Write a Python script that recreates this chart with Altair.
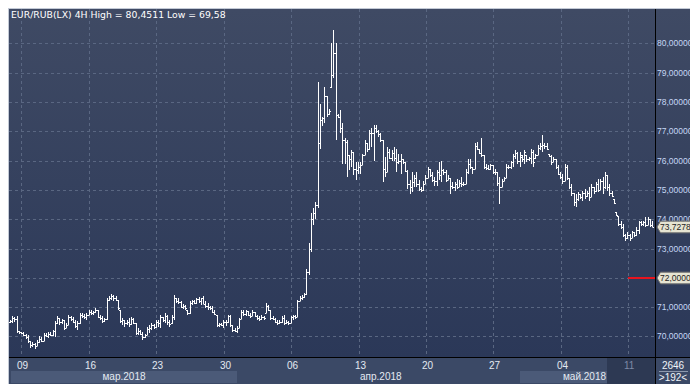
import altair as alt
import pandas as pd

# ---------------- data (4H bars) ----------------
HIGH = [
70.55,70.69,70.66,70.71,70.20,70.17,70.15,70.08,70.06,69.85,
69.80,69.77,69.88,70.00,69.98,70.11,70.11,70.17,70.15,70.23,
70.52,70.69,70.63,70.60,70.55,70.46,70.74,70.69,70.65,70.57,
70.52,70.80,70.80,70.78,70.80,70.92,70.92,70.88,70.97,70.92,
70.74,70.69,70.62,71.32,71.37,71.45,71.40,71.37,71.26,70.92,
70.62,70.57,70.57,70.63,70.65,70.62,70.46,70.29,70.23,70.17,
70.10,70.34,70.40,70.46,70.42,70.57,70.57,70.74,70.68,70.80,
70.74,70.57,70.74,71.43,71.32,71.30,71.20,71.10,71.06,70.92,
71.20,71.26,71.24,71.32,71.34,71.33,71.37,71.20,71.15,71.03,
71.03,70.90,70.74,70.46,70.46,70.57,70.55,70.74,70.74,70.40,
70.30,70.35,70.63,70.92,70.90,70.92,70.88,70.80,70.92,70.85,
70.74,70.69,70.74,70.70,71.15,71.08,70.92,70.70,70.63,70.57,
70.55,70.69,70.74,70.55,70.52,70.69,70.74,70.74,71.26,71.37,
71.40,71.50,72.30,73.20,74.20,74.40,74.60,78.70,77.95,77.50,
78.50,78.20,77.75,80.02,80.4511,80.02,77.60,77.73,77.30,76.76,
76.70,76.20,76.36,76.30,75.96,75.96,75.96,76.24,76.70,76.60,
77.04,77.10,77.22,77.22,77.05,76.93,76.70,76.13,76.47,76.40,
76.36,76.47,76.40,76.24,76.24,76.07,75.95,75.67,75.33,75.61,
75.50,75.61,75.33,75.10,75.30,75.50,75.78,75.73,75.61,75.44,
75.67,75.96,76.00,75.73,75.67,75.50,75.40,75.27,75.27,75.38,
75.33,75.44,75.27,75.73,76.07,76.07,75.80,76.59,76.64,76.40,
76.76,76.20,75.90,75.84,75.90,75.85,75.73,75.61,75.44,75.38,
75.44,75.90,75.84,76.00,76.24,76.36,76.30,76.30,76.20,76.36,
76.19,76.13,76.41,76.36,76.24,76.53,76.59,76.87,76.59,76.59,
76.24,76.19,76.13,76.07,75.84,75.61,75.56,75.90,75.84,75.40,
75.21,74.90,74.87,74.93,74.87,74.98,75.04,74.98,75.10,75.20,
75.10,75.27,75.38,75.38,75.44,75.61,75.50,75.21,74.98,74.70,
74.24,74.12,73.95,73.84,73.50,73.55,73.50,73.61,73.55,73.72,
73.95,73.95,73.95,74.07,74.07,74.00,73.95]
LOW = [
70.45,70.46,70.50,70.12,70.09,70.08,70.00,69.92,69.77,69.62,
69.64,69.58,69.66,69.78,69.80,69.85,69.99,69.94,70.00,70.00,
69.98,70.44,70.40,70.42,70.23,70.29,70.38,70.52,70.45,70.29,
70.23,70.44,70.63,70.60,70.57,70.74,70.74,70.72,70.80,70.62,
70.57,70.46,70.48,70.57,71.20,71.26,71.22,71.20,70.92,70.46,
70.40,70.34,70.40,70.34,70.40,70.44,70.06,70.06,70.06,69.88,
69.94,70.04,70.11,70.23,70.25,70.29,70.34,70.29,70.50,70.46,
70.40,70.34,70.44,70.57,71.15,71.12,70.97,70.95,70.92,70.74,
70.78,71.09,71.10,71.12,71.15,71.09,71.10,70.97,70.92,70.92,
70.80,70.74,70.34,70.34,70.36,70.29,70.35,70.46,70.34,70.15,
70.14,70.12,70.29,70.58,70.70,70.69,70.70,70.63,70.69,70.65,
70.57,70.52,70.57,70.55,70.80,70.86,70.57,70.55,70.46,70.40,
70.42,70.46,70.40,70.42,70.40,70.45,70.57,70.60,70.68,71.20,
71.25,71.30,71.40,72.10,72.90,73.80,74.00,74.40,76.40,77.20,
77.30,77.50,77.55,78.47,78.82,76.70,77.45,76.93,75.90,75.90,
75.44,75.67,75.80,75.50,75.33,75.56,75.56,75.85,76.18,76.30,
76.36,76.47,76.00,76.93,76.80,76.64,75.27,75.44,75.61,76.07,
76.00,76.00,75.60,75.90,75.56,75.90,75.60,75.04,74.87,74.93,
75.10,75.10,74.98,74.93,74.98,75.21,75.40,75.44,75.27,75.15,
75.15,75.33,75.27,75.50,75.27,75.33,74.87,75.04,74.98,75.04,
75.10,75.10,75.15,75.20,75.56,75.73,75.56,75.70,76.36,76.24,
76.13,75.73,75.67,75.67,75.67,75.56,75.50,75.15,74.52,75.10,
75.30,75.40,75.73,75.73,75.78,76.07,75.90,75.78,75.96,75.90,
75.96,76.00,75.90,75.78,76.07,76.19,76.36,76.30,76.41,76.36,
76.13,75.84,75.96,75.73,75.50,75.38,75.21,75.30,75.33,75.04,
74.81,74.47,74.41,74.64,74.70,74.64,74.70,74.76,74.64,74.75,
74.87,74.93,74.93,75.00,74.87,75.04,74.98,74.81,74.76,74.52,
74.12,73.78,73.67,73.38,73.26,73.32,73.26,73.35,73.38,73.44,
73.49,73.78,73.78,73.72,73.80,73.72,73.72]
OPEN = [
70.50,70.52,70.62,70.60,70.18,70.14,70.12,70.05,69.98,69.84,
69.70,69.75,69.66,69.82,69.92,69.86,70.05,70.03,70.10,70.05,
70.18,70.45,70.62,70.50,70.55,70.30,70.40,70.68,70.60,70.50,
70.35,70.45,70.72,70.70,70.66,70.75,70.85,70.80,70.84,70.90,
70.66,70.62,70.52,70.58,71.25,71.30,71.38,71.30,71.25,70.92,
70.52,70.55,70.45,70.50,70.42,70.60,70.46,70.12,70.20,70.10,
69.98,70.06,70.25,70.30,70.40,70.32,70.50,70.45,70.65,70.55,
70.70,70.48,70.46,70.65,71.30,71.20,71.18,71.02,71.05,70.92,
70.80,71.15,71.20,71.14,71.28,71.20,71.30,71.12,71.05,71.00,
70.96,70.85,70.74,70.40,70.42,70.40,70.50,70.48,70.70,70.40,
70.22,70.20,70.30,70.58,70.85,70.76,70.88,70.75,70.70,70.85,
70.70,70.62,70.58,70.66,70.80,71.05,70.92,70.62,70.60,70.50,
70.45,70.50,70.62,70.45,70.50,70.45,70.65,70.70,70.68,71.20,
71.32,71.35,71.45,72.20,73.00,74.00,74.20,74.50,76.60,77.40,
77.45,78.20,77.60,78.50,78.93,79.68,77.56,77.50,77.10,76.70,
76.65,76.18,76.07,76.30,75.70,75.67,75.80,75.85,76.18,76.60,
76.40,76.93,76.93,77.10,77.00,76.90,76.70,75.73,75.61,76.30,
76.10,76.25,76.10,75.96,76.00,76.07,75.95,75.65,75.20,75.10,
75.27,75.40,75.20,75.05,75.00,75.22,75.40,75.70,75.50,75.35,
75.30,75.60,75.50,75.67,75.60,75.35,75.40,75.15,75.10,75.20,
75.10,75.25,75.20,75.20,75.60,75.90,75.80,75.70,76.50,76.40,
76.27,76.20,75.80,75.75,75.70,75.85,75.62,75.61,75.25,75.10,
75.30,75.40,75.80,75.78,75.95,76.15,76.25,76.00,76.13,76.05,
76.19,76.05,76.10,76.30,76.10,76.20,76.45,76.50,76.55,76.50,
76.24,76.15,75.96,76.05,75.80,75.55,75.45,75.30,75.80,75.40,
75.10,74.90,74.60,74.70,74.85,74.75,74.90,74.80,74.90,74.75,
75.10,74.95,75.20,75.00,75.30,75.10,75.50,75.10,74.90,74.70,
74.24,74.12,73.85,73.75,73.45,73.35,73.45,73.35,73.55,73.45,
73.65,73.90,73.85,73.90,73.80,74.00,73.80]
CLOSE = [
70.52,70.62,70.60,70.18,70.14,70.12,70.05,69.98,69.85,69.70,
69.75,69.66,69.82,69.92,69.86,70.05,70.03,70.10,70.05,70.18,
70.45,70.62,70.50,70.55,70.30,70.40,70.68,70.60,70.50,70.35,
70.45,70.72,70.70,70.66,70.75,70.85,70.80,70.84,70.92,70.66,
70.62,70.52,70.58,71.25,71.30,71.38,71.30,71.25,70.98,70.52,
70.55,70.45,70.50,70.42,70.60,70.46,70.12,70.20,70.10,69.98,
70.06,70.25,70.30,70.40,70.32,70.50,70.45,70.65,70.55,70.70,
70.48,70.42,70.65,71.30,71.20,71.18,71.02,71.05,70.96,70.80,
71.15,71.20,71.14,71.28,71.20,71.30,71.12,71.05,71.00,70.96,
70.85,70.78,70.40,70.42,70.40,70.50,70.48,70.70,70.40,70.22,
70.20,70.30,70.58,70.85,70.76,70.88,70.75,70.70,70.85,70.70,
70.62,70.58,70.66,70.62,71.05,70.92,70.62,70.60,70.50,70.45,
70.50,70.62,70.45,70.50,70.45,70.65,70.70,70.68,71.20,71.32,
71.35,71.45,72.20,73.00,74.00,74.20,74.50,76.60,77.40,77.45,
78.20,77.60,77.70,78.93,79.68,77.56,77.50,77.10,76.70,76.65,
76.18,76.07,76.30,75.70,75.67,75.80,75.85,76.18,76.60,76.40,
76.93,76.93,77.10,77.00,76.90,76.70,75.73,75.61,76.30,76.10,
76.25,76.10,75.96,76.00,76.07,75.95,75.65,75.20,75.10,75.27,
75.40,75.20,75.05,75.00,75.22,75.40,75.70,75.50,75.35,75.30,
75.60,75.50,75.67,75.60,75.35,75.40,75.15,75.10,75.20,75.10,
75.25,75.20,75.20,75.60,75.90,75.80,75.70,76.50,76.40,76.27,
76.20,75.80,75.75,75.70,75.85,75.62,75.61,75.25,75.10,75.30,
75.40,75.80,75.78,75.95,76.15,76.25,76.00,76.20,76.05,76.30,
76.05,76.10,76.30,75.95,76.20,76.45,76.50,76.55,76.50,76.40,
76.15,75.95,76.05,75.80,75.55,75.45,75.30,75.80,75.40,75.10,
74.90,74.60,74.70,74.85,74.75,74.90,74.80,74.90,74.75,75.10,
74.95,75.20,75.00,75.30,75.10,75.50,75.10,74.90,74.80,74.55,
74.15,73.85,73.75,73.45,73.35,73.45,73.35,73.55,73.45,73.65,
73.90,73.85,73.90,73.80,74.00,73.80,73.7278]

WEEK_POS = [4.9, 35.2, 65.0, 95.3, 125.2, 155.5, 185.3, 215.1, 245.4, 275.3]
WEEK_LABELS = ["09", "16", "23", "30", "06", "13", "20", "27", "04", "11"]
PRICE_TICKS = [70, 71, 72, 73, 74, 75, 76, 77, 78, 79, 80]
PRICE_LABELS = ["70,00000", "71,00000", "72,00000", "73,00000", "74,00000", "75,00000",
                "76,00000", "77,00000", "78,00000", "79,00000", "80,00000"]
MONTHS = ["мар.2018", "апр.2018", "май.2018"]
MONTH_POS = [51.0, 155.9, 265.5]
MONTH_ALIGN = ["center", "left", "right"]
BAND_START = [0.45, 227.2]
BAND_END = [101.1, 265.9]
CURRENT_START = 265.9
LAST_PRICE = 73.7278
LAST_LABEL = "73,72780"
LEVEL = 72.0
LEVEL_LABEL = "72,00000"
LEVEL_START = 275.3
COUNT_TEXT = "2646"
RANGE_TEXT = ">192<"

n = len(HIGH)
assert len(LOW) == n and len(OPEN) == n and len(CLOSE) == n, (len(HIGH), len(LOW), len(OPEN), len(CLOSE))

TITLE = "EUR/RUB(LX) 4H High = %s Low = %s" % (str(max(HIGH)).replace(".", ","),
                                               str(min(LOW)).replace(".", ","))

bars = pd.DataFrame({"i": list(range(n)), "o": OPEN, "h": HIGH, "l": LOW, "c": CLOSE})
gy = pd.DataFrame({"p": PRICE_TICKS, "t": PRICE_LABELS})
weeks = pd.DataFrame({"w": WEEK_POS, "t": WEEK_LABELS})
bands = pd.DataFrame({"s": BAND_START, "e": BAND_END})
cur = pd.DataFrame({"s": [CURRENT_START]})
level = pd.DataFrame({"p": [LEVEL], "s": [LEVEL_START]})
boxes = pd.DataFrame({"p": [LAST_PRICE, LEVEL], "t": [LAST_LABEL, LEVEL_LABEL]})
one = pd.DataFrame({"k": [0]})

W, H = 646, 348
FULLW, FULLH = 681, 376
FONT = "Liberation Sans"
GRID = "#5a6782"

XS = alt.Scale(domain=[-0.445, 287.3], nice=False, zero=False, round=True)
YS = alt.Scale(domain=[69.30, 81.177], nice=False, zero=False, round=True)


def X(f):
    return alt.X(f, type="quantitative", scale=XS, axis=None)


def Y(f):
    return alt.Y(f, type="quantitative", scale=YS, axis=None)


grad = alt.LinearGradient(
    gradient="linear",
    stops=[alt.GradientStop(color="#3f4a64", offset=0),
           alt.GradientStop(color="#2b3858", offset=1)],
    x1=0, x2=0, y1=0, y2=1)

bg = alt.Chart(one).mark_rect(color=grad).encode(
    x=alt.value(0), x2=alt.value(FULLW), y=alt.value(0), y2=alt.value(H))
strip = alt.Chart(one).mark_rect(color="#3b4966").encode(
    x=alt.value(0), x2=alt.value(FULLW), y=alt.value(H + 1), y2=alt.value(FULLH))
band = alt.Chart(bands).mark_rect(color="#4b5a78").encode(
    x=X("s"), x2=alt.X2("e"), y=alt.value(362), y2=alt.value(374))
dark = alt.Chart(cur).mark_rect(color="#2d3953").encode(
    x=X("s"), x2=alt.value(W), y=alt.value(H + 1), y2=alt.value(375))

hgrid = alt.Chart(gy).mark_rule(color=GRID, strokeDash=[3, 3], yOffset=0.5).encode(
    y=Y("p"), x=alt.value(0), x2=alt.value(W))
vgrid = alt.Chart(weeks).mark_rule(color=GRID, strokeDash=[3, 3], xOffset=0.5).encode(
    x=X("w"), y=alt.value(0), y2=alt.value(H))

red = alt.Chart(level).mark_rule(color="#e8141e", strokeWidth=2).encode(
    x=X("s"), x2=alt.value(W), y=Y("p"))

hl = alt.Chart(bars).mark_rule(color="white", xOffset=0.5).encode(
    x=X("i"), y=Y("l"), y2=alt.Y2("h"))
op = alt.Chart(bars).mark_rule(color="white", xOffset=-1, x2Offset=0.5, yOffset=0.5).encode(
    x=X("i"), x2=alt.X2("i"), y=Y("o"))
cl = alt.Chart(bars).mark_rule(color="white", xOffset=0.5, x2Offset=2, yOffset=0.5).encode(
    x=X("i"), x2=alt.X2("i"), y=Y("c"))

vline = alt.Chart(one).mark_rule(color="black").encode(
    x=alt.value(W + 0.5), y=alt.value(0), y2=alt.value(FULLH))
hline = alt.Chart(one).mark_rule(color="black").encode(
    x=alt.value(0), x2=alt.value(FULLW), y=alt.value(H + 0.5))

# the 72 axis label sits fully under the level box, which repeats the same text
ylab = alt.Chart(gy).transform_filter(alt.datum.p != LEVEL).mark_text(
    align="left", baseline="middle", font=FONT, fontSize=8.5, color="#c6d7f4").encode(
    x=alt.value(W + 2), y=Y("p"), text="t:N")

BOX_PATH = "M-1,0L-0.844,-0.26L1,-0.26L1,0.26L-0.844,0.26Z"
boxshape = alt.Chart(boxes).mark_point(shape=BOX_PATH, size=2025, filled=True, fill="#e6e4d2",
                                       stroke="#6e6e6e", strokeWidth=1, opacity=1,
                                       fillOpacity=1, strokeOpacity=1).encode(
    x=alt.value(670.5), y=Y("p"))
boxtext = alt.Chart(boxes).mark_text(align="left", baseline="middle", font=FONT, fontSize=8.5,
                                     color="#1e1e1e").encode(
    x=alt.value(651), y=Y("p"), text="t:N")

wk = alt.Chart(weeks).transform_filter(alt.datum.w < 270).mark_text(
    align="left", baseline="middle", dx=-4, font=FONT, fontSize=10, color="#e4eaf2").encode(
    x=X("w"), y=alt.value(356.5), text="t:N")
wk_last = alt.Chart(weeks).transform_filter(alt.datum.w >= 270).mark_text(
    align="left", baseline="middle", dx=-4, font=FONT, fontSize=10, color="#7d8aa6").encode(
    x=X("w"), y=alt.value(356.5), text="t:N")

month_layers = []
for name, pos, al in zip(MONTHS, MONTH_POS, MONTH_ALIGN):
    mdf = pd.DataFrame({"m": [pos], "t": [name]})
    month_layers.append(
        alt.Chart(mdf).mark_text(align=al, baseline="middle", font=FONT, fontSize=10,
                                 color="#e4eaf2").encode(
            x=X("m"), y=alt.value(367.5), text="t:N"))

cnt = alt.Chart(one).mark_text(text=COUNT_TEXT, align="center", baseline="middle", font=FONT,
                               fontSize=10, color="#f0f4f8").encode(
    x=alt.value(664), y=alt.value(356.5))
rng = alt.Chart(one).mark_text(text=RANGE_TEXT, align="center", baseline="middle", font=FONT,
                               fontSize=10, color="#f0f4f8").encode(
    x=alt.value(664), y=alt.value(369))
sep = alt.Chart(one).mark_rule(color="#8d99ad").encode(
    x=alt.value(650), x2=alt.value(679), y=alt.value(362.5))

title = alt.Chart(one).mark_text(text=TITLE, align="left", baseline="middle", font="DejaVu Sans",
                                 fontSize=9.3, color="#ffffff").encode(
    x=alt.value(2), y=alt.value(6))

chart = alt.layer(
    bg, strip, band, dark, hgrid, vgrid, red, hl, op, cl, vline, hline,
    ylab, boxshape, boxtext, wk, wk_last, *month_layers, cnt, rng, sep, title
).properties(
    width=W, height=H,
    padding={"left": 1, "top": 1, "right": 35, "bottom": 27},
    autosize=alt.AutoSizeParams(type="none"),
    background="#c3cad6",
).configure_view(stroke=None)

chart.save("out.html", embed_options={"renderer": "svg", "actions": False})
